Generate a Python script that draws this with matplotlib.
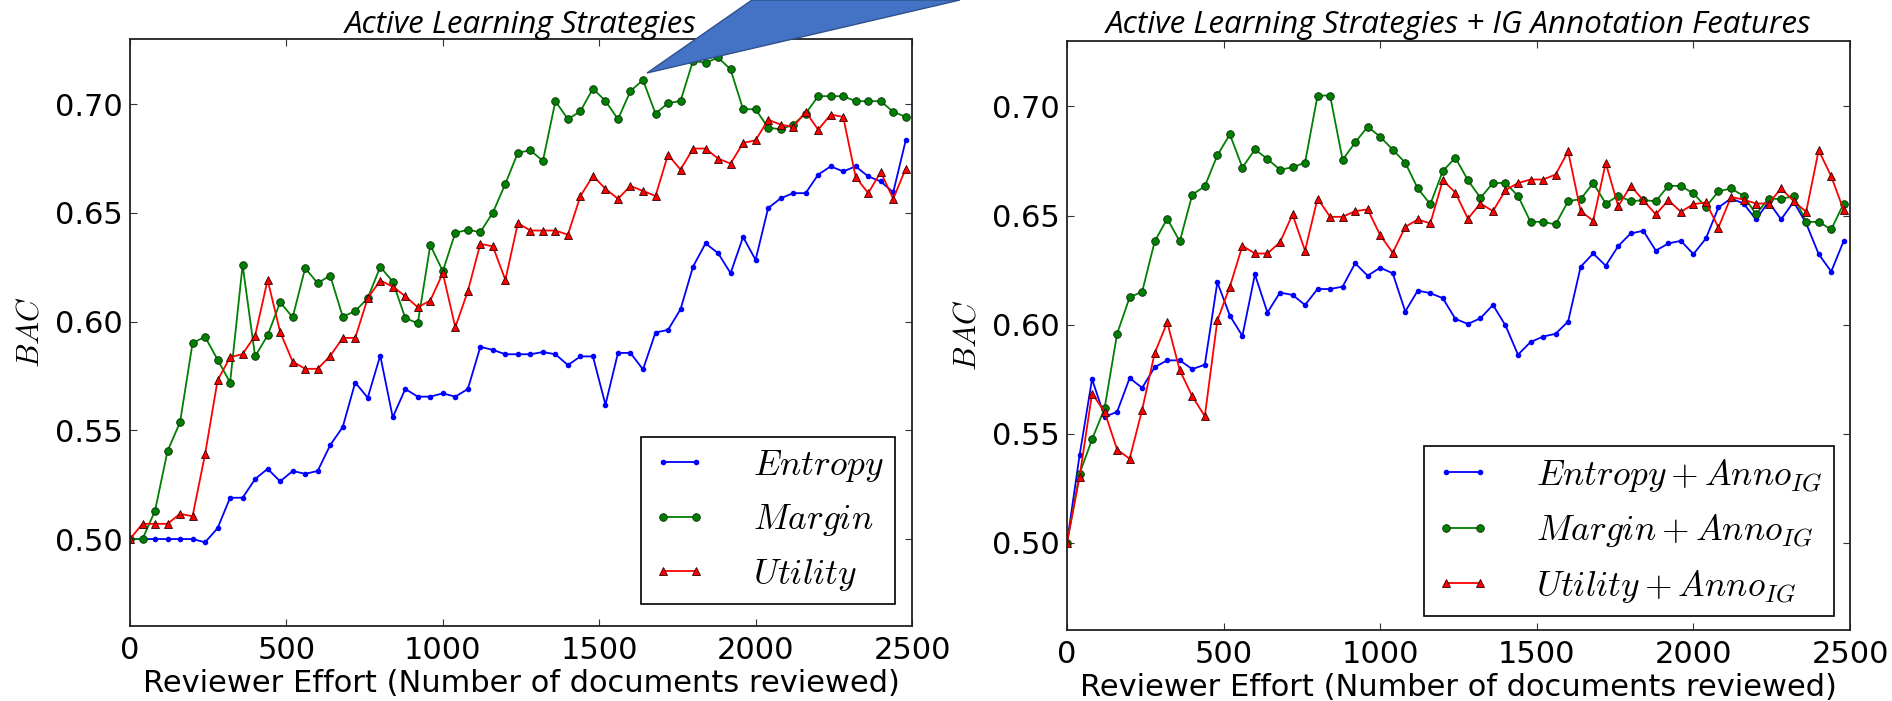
import matplotlib
matplotlib.use('Agg')
import matplotlib.pyplot as plt
from matplotlib.ticker import FormatStrFormatter
from matplotlib.patches import Polygon

# ---------------- data ----------------
docs = list(range(0, 2481, 40))

entropy = [0.500, 0.500, 0.500, 0.500, 0.500, 0.500, 0.4985, 0.505, 0.519, 0.519,
           0.5276, 0.5323, 0.5265, 0.5313, 0.530, 0.5313, 0.5432, 0.5515, 0.572, 0.565,
           0.5844, 0.556, 0.569, 0.5655, 0.5655, 0.567, 0.5655, 0.569, 0.5884, 0.587,
           0.585, 0.585, 0.585, 0.586, 0.585, 0.580, 0.584, 0.584, 0.5618, 0.5856,
           0.5856, 0.578, 0.595, 0.5962, 0.6057, 0.6253, 0.636, 0.6315, 0.6223, 0.6389,
           0.6284, 0.6522, 0.6567, 0.6591, 0.6591, 0.6676, 0.6714, 0.6691, 0.6714, 0.6668,
           0.6645, 0.6595, 0.6834]
margin = [0.500, 0.500, 0.513, 0.5405, 0.5537, 0.5902, 0.593, 0.5825, 0.572, 0.626,
          0.584, 0.5937, 0.6089, 0.602, 0.6246, 0.6177, 0.6212, 0.6023, 0.6048, 0.6108,
          0.6252, 0.6184, 0.6017, 0.5992, 0.6352, 0.6232, 0.6409, 0.6422, 0.6412, 0.6501,
          0.6634, 0.6777, 0.6788, 0.6739, 0.7014, 0.6931, 0.6968, 0.7072, 0.7015, 0.6931,
          0.7061, 0.7111, 0.6957, 0.7005, 0.7015, 0.720, 0.719, 0.7215, 0.716, 0.6977,
          0.6977, 0.6892, 0.6885, 0.6906, 0.6957, 0.7037, 0.7037, 0.7037, 0.7014, 0.7014,
          0.7014, 0.6965, 0.6942]
utility = [0.500, 0.507, 0.507, 0.507, 0.5116, 0.5105, 0.539, 0.573, 0.5836, 0.5851,
           0.5936, 0.6192, 0.5952, 0.5816, 0.5783, 0.5783, 0.5842, 0.5925, 0.5925, 0.6108,
           0.6189, 0.6161, 0.6117, 0.6066, 0.6097, 0.6223, 0.5974, 0.614, 0.6358, 0.6346,
           0.6192, 0.6453, 0.6419, 0.6419, 0.6419, 0.640, 0.6578, 0.667, 0.6611, 0.6565,
           0.6624, 0.6601, 0.6578, 0.6768, 0.6699, 0.6796, 0.6796, 0.675, 0.6727, 0.6822,
           0.6834, 0.6929, 0.6906, 0.6896, 0.6965, 0.6883, 0.6952, 0.6942, 0.6665, 0.6591,
           0.6688, 0.6565, 0.6704]

entropy_ig = [0.500, 0.540, 0.575, 0.5577, 0.560, 0.5755, 0.571, 0.5805, 0.5836, 0.5836,
              0.5796, 0.5816, 0.6194, 0.6041, 0.5948, 0.623, 0.6055, 0.6147, 0.6136, 0.609,
              0.6163, 0.6163, 0.6174, 0.6281, 0.6224, 0.6261, 0.6235, 0.606, 0.6156, 0.6144,
              0.6121, 0.6026, 0.6003, 0.6029, 0.609, 0.5996, 0.5862, 0.592, 0.5945, 0.5958,
              0.6014, 0.6265, 0.6326, 0.627, 0.636, 0.6418, 0.643, 0.6339, 0.6372, 0.6384,
              0.6323, 0.6395, 0.6537, 0.6578, 0.6555, 0.6482, 0.6563, 0.6482, 0.6563, 0.6464,
              0.6323, 0.6243, 0.6384]
margin_ig = [0.500, 0.5316, 0.5474, 0.5616, 0.5958, 0.6125, 0.6151, 0.6381, 0.6486, 0.6381,
             0.6596, 0.6634, 0.6776, 0.6872, 0.672, 0.6803, 0.6759, 0.671, 0.6721, 0.6742,
             0.705, 0.705, 0.6755, 0.6835, 0.6907, 0.6861, 0.6802, 0.6742, 0.6624, 0.6552,
             0.6704, 0.6765, 0.6662, 0.6581, 0.6649, 0.6649, 0.659, 0.6471, 0.6471, 0.6459,
             0.6566, 0.6575, 0.6649, 0.6555, 0.659, 0.6566, 0.657, 0.6566, 0.6636, 0.6636,
             0.6601, 0.654, 0.6611, 0.6624, 0.659, 0.6506, 0.6578, 0.6575, 0.659, 0.6471,
             0.6471, 0.6436, 0.6555]
utility_ig = [0.500, 0.5301, 0.5684, 0.560, 0.5427, 0.5385, 0.561, 0.5869, 0.601, 0.5791,
              0.5671, 0.558, 0.6019, 0.6174, 0.6361, 0.6326, 0.6326, 0.6377, 0.6505, 0.6339,
              0.6578, 0.6494, 0.6494, 0.652, 0.6528, 0.641, 0.6329, 0.6448, 0.6482, 0.6464,
              0.6662, 0.6605, 0.6486, 0.6555, 0.652, 0.6616, 0.6649, 0.6665, 0.6665, 0.6688,
              0.6794, 0.652, 0.6476, 0.6741, 0.6543, 0.6636, 0.657, 0.6505, 0.657, 0.6517,
              0.6552, 0.656, 0.6445, 0.6585, 0.6573, 0.6555, 0.6555, 0.6624, 0.6566, 0.6517,
              0.6799, 0.668, 0.6524]

titles = ['Active Learning Strategies', 'Active Learning Strategies + IG Annotation Features']
labels_left = [r'$Entropy$', r'$Margin$', r'$Utility$']
labels_right = [r'$Entropy + Anno_{IG}$', r'$Margin + Anno_{IG}$', r'$Utility + Anno_{IG}$']
xticks = [0, 500, 1000, 1500, 2000, 2500]
yticks = [0.50, 0.55, 0.60, 0.65, 0.70]
xlabel = 'Reviewer Effort (Number of documents reviewed)'
ylabel = r'$BAC$'

# ---------------- style ----------------
plt.rcParams['mathtext.fontset'] = 'cm'
plt.rcParams['font.family'] = ['DejaVu Sans']

W, H = 1892, 701
fig = plt.figure(figsize=(W / 100, H / 100), dpi=100)
fig.patch.set_facecolor('white')
renderer = fig.canvas.get_renderer()


def make_axes(l, t, r, b):
    return fig.add_axes([l / W, 1 - b / H, (r - l) / W, (b - t) / H])


ax1 = make_axes(130, 39, 912, 626)
ax2 = make_axes(1067, 41, 1850, 630)

styles = [dict(color='b', marker='.', markersize=6, markeredgecolor='b'),
          dict(color='g', marker='o', markersize=5.5, markeredgecolor='#0a2a0a', markeredgewidth=0.6),
          dict(color='r', marker='^', markersize=6, markeredgecolor='#300000', markeredgewidth=0.6)]

panels = [
    (ax1, [entropy, margin, utility], labels_left, titles[0], 352, 4.5, (895, 604)),
    (ax2, [entropy_ig, margin_ig, utility_ig], labels_right, titles[1], 705, 5.5, (1834, 616)),
]

for ax, series, labels, title, title_w, title_pad, leg_corner in panels:
    for ys, lab, st in zip(series, labels, styles):
        ax.plot(docs, ys, lw=1.3, label=lab, **st)
    ax.set_xlim(0, 2500)
    ax.set_ylim(0.46, 0.73)
    ax.set_xticks(xticks)
    ax.set_yticks(yticks)
    ax.yaxis.set_major_formatter(FormatStrFormatter('%.2f'))
    ax.tick_params(direction='in', top=True, right=True, length=5, width=0.8,
                   labelsize=22, color='#333333')
    ax.tick_params(axis='x', pad=7)
    ax.tick_params(axis='y', pad=5)
    for sp in ax.spines.values():
        sp.set_linewidth(1.3)
        sp.set_color('#222222')
    ax.set_xlabel(xlabel, fontsize=22, labelpad=3)
    ax.set_ylabel(ylabel, fontsize=22, labelpad=8)

    t = ax.set_title(title, fontfamily='Open Sans', fontstyle='italic', fontsize=20, pad=title_pad)
    w = t.get_window_extent(renderer).width
    t.set_fontsize(20 * title_w / w)

    # legend anchored at the lower-right corner of its frame (figure pixels)
    bb = ax.get_position()
    ax_l, ax_b = bb.x0 * W, bb.y0 * H
    anchor = ((leg_corner[0] - ax_l) / (bb.width * W),
              ((H - leg_corner[1]) - ax_b) / (bb.height * H))
    leg = ax.legend(loc='lower right', bbox_to_anchor=anchor, borderaxespad=0,
                    numpoints=2, fontsize=25.5, fancybox=False, framealpha=1,
                    edgecolor='black', handlelength=1.55, handletextpad=1.3,
                    borderpad=0.32, labelspacing=0.52)
    leg.get_frame().set_linewidth(1.2)

# callout pointer (blue wedge) overlapping the first panel
callout = Polygon([(647 / W, 1 - 73 / H), (752 / W, 1.0), (960 / W, 1.0)], closed=True,
                  transform=fig.transFigure, facecolor='#4472C4', edgecolor='#2F528F',
                  lw=1.0, zorder=10, clip_on=False)
fig.add_artist(callout)

fig.savefig('out.png', dpi=100, facecolor='white')
